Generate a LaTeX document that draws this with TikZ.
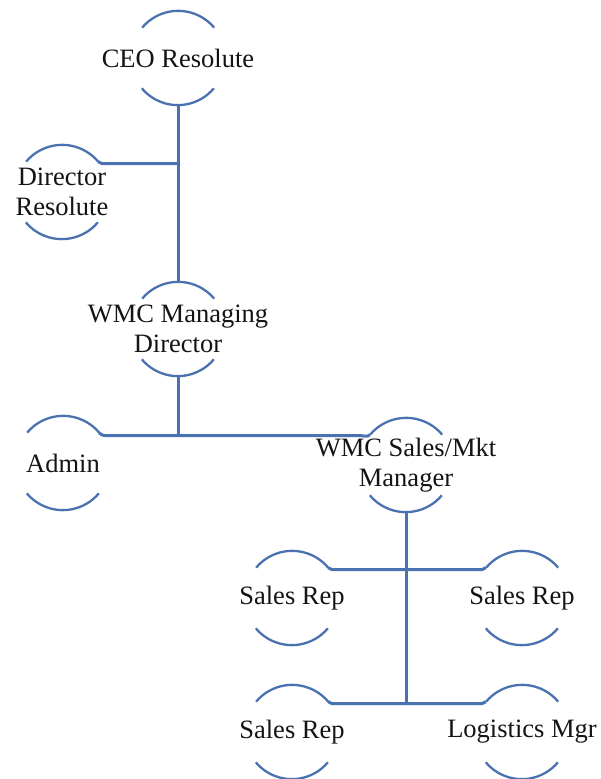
\documentclass[tikz,border=0pt]{standalone}
\usepackage{fontspec}
\setmainfont{Liberation Serif}
\definecolor{orgline}{RGB}{74,114,176}
\definecolor{orgtext}{RGB}{20,20,20}
\tikzset{
  unit/.style={circle, draw=none, inner sep=0pt, minimum size=94pt,
    label={[orgtext, align=center, font=\fontsize{26.5}{30}\selectfont]center:#1}},
  rim/.style={draw=orgline, line width=2.3pt},
  link/.style={draw=orgline, line width=3pt},
}
% top and bottom rims of a unit
\newcommand{\rims}[1]{%
  \draw[rim] (#1.40) arc[start angle=40, end angle=140, radius=47pt];
  \draw[rim] (#1.220) arc[start angle=220, end angle=320, radius=47pt];
}
\begin{document}
\begin{tikzpicture}[x=1pt,y=1pt]
\useasboundingbox (0,0) rectangle (600,779);

\node[unit={CEO Resolute}] (ceo) at (178,721) {};
\node[unit={Director\\Resolute}] (dir) at (62,587) {};
\node[unit={WMC Managing\\Director}] (wmd) at (178,450) {};
\node[unit={Admin}] (adm) at (63,316) {};
\node[unit={WMC Sales/Mkt\\Manager}] (wsm) at (406,314) {};
\node[unit={Sales Rep}] (sr1) at (292,181) {};
\node[unit={Sales Rep}] (sr2) at (522,181) {};
\node[unit={Sales Rep}] (sr3) at (292,47) {};
\node[unit={Logistics Mgr}] (lgm) at (522,47) {};

\foreach \n in {ceo,dir,wmd,adm,wsm,sr1,sr2,sr3,lgm} {\rims{\n}}

% junctions on the vertical trunks
\coordinate (j1) at (ceo.south |- dir.40);
\coordinate (j2) at (wmd.south |- adm.40);
\coordinate (j4) at (wsm.south |- sr3.40);

\draw[link] (ceo.south) -- (wmd.north);
\draw[link] (dir.40) to[out=-50,in=180] ([shift={(9,-2)}]dir.40) -- ([yshift=-2]j1);
\draw[link] (wmd.south) -- ([yshift=-3]j2);
\draw[link] (adm.40) to[out=-50,in=180] ([shift={(9,-3)}]adm.40)
  -- ([shift={(-9,-1)}]wsm.140) to[out=0,in=230] (wsm.140);
\draw[link] (wsm.south) -- ([yshift=-2]j4);
\draw[link] (sr1.40) to[out=-50,in=180] ([shift={(9,-2)}]sr1.40)
  -- ([shift={(-9,-2)}]sr2.140) to[out=0,in=230] (sr2.140);
\draw[link] (sr3.40) to[out=-50,in=180] ([shift={(9,-2)}]sr3.40)
  -- ([shift={(-9,-2)}]lgm.140) to[out=0,in=230] (lgm.140);
\end{tikzpicture}
\end{document}
